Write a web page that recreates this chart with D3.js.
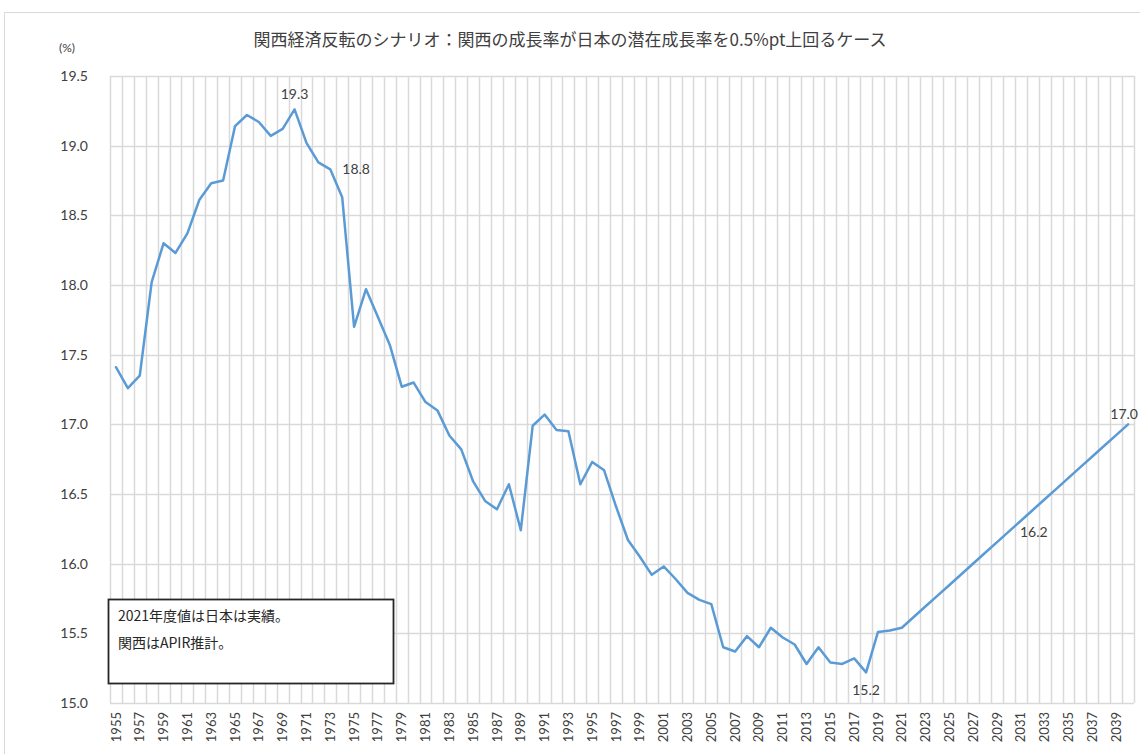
<!DOCTYPE html>
<html>
<head>
<meta charset="utf-8">
<script src="https://cdn.jsdelivr.net/npm/d3@7"></script>
<style>
  body { margin: 0; background: #fff; }
  svg { display: block; }
</style>
</head>
<body>
<div id="chart"></div>
<script>
const width = 1140;
const height = 754;

// years on the category axis
const years = d3.range(1955, 2041);
// Kansai share (%), 1955..2040
const shares = [
  17.41, 17.26, 17.35, 18.02, 18.30, 18.23, 18.37, 18.61, 18.73, 18.75,
  19.14, 19.22, 19.17, 19.07, 19.12, 19.26, 19.02, 18.88, 18.83, 18.63,
  17.70, 17.97, 17.77, 17.57, 17.27, 17.30, 17.16, 17.10, 16.92, 16.82,
  16.59, 16.45, 16.39, 16.57, 16.24, 16.99, 17.07, 16.96, 16.95, 16.57,
  16.73, 16.67, 16.41, 16.17, 16.05, 15.92, 15.98, 15.89, 15.79, 15.74,
  15.71, 15.40, 15.37, 15.48, 15.40, 15.54, 15.47, 15.42, 15.28, 15.40,
  15.29, 15.28, 15.32, 15.22, 15.51, 15.52, 15.54, 15.617, 15.694, 15.771,
  15.847, 15.924, 16.001, 16.078, 16.155, 16.232, 16.308, 16.385, 16.462, 16.539,
  16.616, 16.693, 16.769, 16.846, 16.923, 17.00
];
const yTicks = [15.0, 15.5, 16.0, 16.5, 17.0, 17.5, 18.0, 18.5, 19.0, 19.5];
const labelYears = [1970, 1973, 2018, 2030, 2040];

const title = "関西経済反転のシナリオ：関西の成長率が日本の潜在成長率を0.5%pt上回るケース";
const unitLabel = "(%)";
const noteLines = ["2021年度値は日本は実績。", "関西はAPIR推計。"];

const data = years.map((y, i) => ({ year: y, value: shares[i] }));

const plot = { left: 110, right: 1134, top: 76, bottom: 703 };

const svg = d3.select("#chart").append("svg")
  .attr("width", width)
  .attr("height", height);

// chart area outline (runs off the right / bottom like the screenshot)
svg.append("rect")
  .attr("x", 4.5).attr("y", 12.5)
  .attr("width", 1300).attr("height", 900)
  .attr("fill", "#fff")
  .attr("stroke", "#d9d9d9")
  .attr("stroke-width", 1);

const x = d3.scaleBand()
  .domain(years)
  .range([plot.left, plot.right])
  .padding(0);

const y = d3.scaleLinear()
  .domain([15, 19.5])
  .range([plot.bottom, plot.top]);

const cx = d => x(d) + x.bandwidth() / 2;

// horizontal gridlines
svg.append("g")
  .selectAll("line")
  .data(yTicks)
  .enter()
  .append("line")
  .attr("x1", plot.left).attr("x2", plot.right)
  .attr("y1", d => Math.round(y(d)) + 0.5)
  .attr("y2", d => Math.round(y(d)) + 0.5)
  .attr("stroke", "#d9d9d9")
  .attr("stroke-width", 1.5);

// vertical gridlines at category boundaries
svg.append("g")
  .selectAll("line")
  .data(years.concat([null]))
  .enter()
  .append("line")
  .attr("x1", d => Math.round(d === null ? plot.right : x(d)) + 0.5)
  .attr("x2", d => Math.round(d === null ? plot.right : x(d)) + 0.5)
  .attr("y1", plot.top)
  .attr("y2", plot.bottom)
  .attr("stroke", "#d9d9d9")
  .attr("stroke-width", 1.5);

// y tick labels
svg.append("g")
  .selectAll("text")
  .data(yTicks)
  .enter()
  .append("text")
  .attr("x", 88)
  .attr("y", d => y(d))
  .attr("dy", "0.35em")
  .attr("text-anchor", "end")
  .attr("font-family", "Lato, 'Noto Sans', sans-serif")
  .attr("font-size", 14)
  .attr("fill", "#404040")
  .text(d3.format(".1f"));

// x tick labels, every other year, rotated
svg.append("g")
  .selectAll("text")
  .data(years.filter(d => d % 2 === 1))
  .enter()
  .append("text")
  .attr("transform", d => `translate(${cx(d)},${712}) rotate(-90)`)
  .attr("dy", "0.35em")
  .attr("text-anchor", "end")
  .attr("font-family", "Lato, 'Noto Sans', sans-serif")
  .attr("font-size", 13)
  .attr("fill", "#404040")
  .text(d => d);

// unit
svg.append("text")
  .attr("x", 67).attr("y", 48)
  .attr("text-anchor", "middle")
  .attr("dy", "0.35em")
  .attr("font-family", "Lato, 'Noto Sans', sans-serif")
  .attr("font-size", 12)
  .attr("fill", "#404040")
  .text(unitLabel);

// title
svg.append("text")
  .attr("x", 570).attr("y", 40)
  .attr("text-anchor", "middle")
  .attr("dy", "0.35em")
  .attr("font-family", "'Noto Sans CJK JP', sans-serif")
  .attr("font-size", 17)
  .attr("fill", "#404040")
  .text(title);

// the line
const line = d3.line()
  .x(d => cx(d.year))
  .y(d => y(d.value));

svg.append("path")
  .datum(data)
  .attr("d", line)
  .attr("fill", "none")
  .attr("stroke", "#5b9bd5")
  .attr("stroke-width", 2.5)
  .attr("stroke-linejoin", "round")
  .attr("stroke-linecap", "round");

// data labels
const placement = {
  1970: { dx: 0, dy: -15, anchor: "middle" },
  1973: { dx: 12, dy: 0, anchor: "start" },
  2018: { dx: 0, dy: 18, anchor: "middle" },
  2030: { dx: 11, dy: 1, anchor: "start" },
  2040: { dx: 11, dy: -10, anchor: "end" }
};

svg.append("g")
  .selectAll("text")
  .data(data.filter(d => labelYears.includes(d.year)))
  .enter()
  .append("text")
  .attr("x", d => Math.min(cx(d.year) + placement[d.year].dx, width - 2))
  .attr("y", d => y(d.value) + placement[d.year].dy)
  .attr("dy", "0.35em")
  .attr("text-anchor", d => placement[d.year].anchor)
  .attr("font-family", "Lato, 'Noto Sans', sans-serif")
  .attr("font-size", 14)
  .attr("fill", "#404040")
  .text(d => d3.format(".1f")(d.value));

// note box
const note = svg.append("g");
note.append("rect")
  .attr("x", 108.5).attr("y", 599.5)
  .attr("width", 285).attr("height", 84)
  .attr("fill", "#fff")
  .attr("stroke", "#262626")
  .attr("stroke-width", 1.8);

note.selectAll("text")
  .data(noteLines)
  .enter()
  .append("text")
  .attr("x", 118)
  .attr("y", (d, i) => 616 + i * 27)
  .attr("dy", "0.35em")
  .attr("font-family", "'Noto Sans CJK JP', sans-serif")
  .attr("font-size", 14)
  .attr("fill", "#262626")
  .text(d => d);
</script>
</body>
</html>
